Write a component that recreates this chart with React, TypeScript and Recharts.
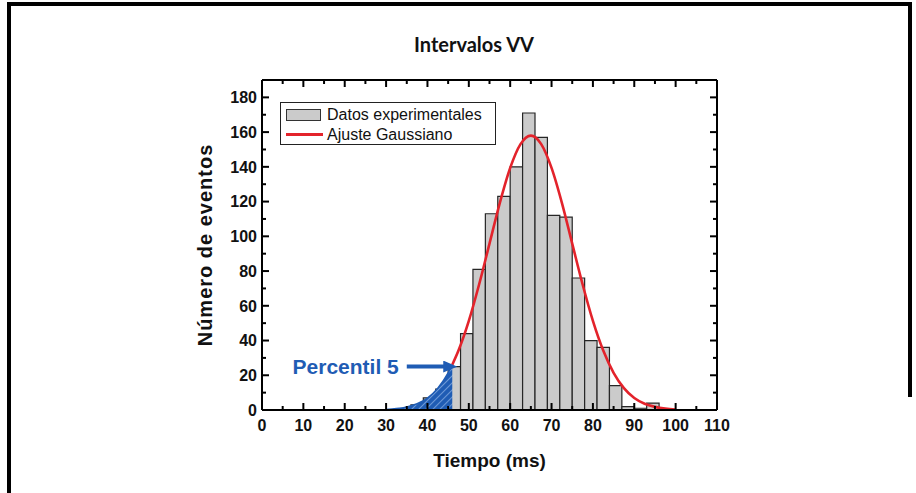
import React from 'react';
import {
  ComposedChart, Line, Area, XAxis, YAxis, ReferenceArea, ReferenceLine, Legend,
} from 'recharts';

// Histogram bins (start of each 3 ms bin) and counts
const BIN_WIDTH = 3;
const binStarts = [36, 39, 42, 45, 48, 51, 54, 57, 60, 63, 66, 69, 72, 75, 78, 81, 84, 87, 90, 93];
const binCounts = [3, 7, 12, 25, 44, 81, 113, 123, 140, 171, 157, 112, 111, 76, 40, 36, 14, 2, 1, 4];

// Gaussian fit curve
const fitX = [30, 32.5, 35, 37.5, 40, 42.5, 45, 46, 47.5, 50, 52.5, 55, 57.5, 60, 62.5, 65, 67.5, 70, 72.5, 75, 77.5, 80, 82.5, 85, 87.5, 90, 92.5, 95, 97.5, 100];
const fitY = [0.3, 0.8, 1.8, 3.6, 6.9, 12.6, 21.4, 26, 34.2, 51.3, 72.4, 95.8, 119.3, 139.4, 153.1, 158, 153.1, 139.4, 119.3, 95.8, 72.4, 51.3, 34.2, 21.4, 12.6, 6.9, 3.6, 1.8, 0.8, 0.3];
const PERCENTIL_5 = 46;

// Annotation arrow
const arrowFrom = { x: 35, y: 25 };
const arrowTo = { x: 44.3, y: 25 };

const xTicks = [0, 5, 10, 15, 20, 25, 30, 35, 40, 45, 50, 55, 60, 65, 70, 75, 80, 85, 90, 95, 100, 105, 110];
const yTicks = [0, 10, 20, 30, 40, 50, 60, 70, 80, 90, 100, 110, 120, 130, 140, 150, 160, 170, 180];

const fitData = fitX.map((x, i) => ({
  x,
  fit: x >= PERCENTIL_5 ? fitY[i] : null,
  tail: x <= PERCENTIL_5 ? fitY[i] : null,
}));

const FONT = '"Liberation Sans", Arial, sans-serif';
const BLUE = '#1f5cb4';
const RED = '#e3232b';

const BottomTick = (p: any) => {
  const { x, y, payload } = p;
  const major = payload.value % 10 === 0;
  return (
    <g>
      <line x1={x} x2={x} y1={y} y2={y - (major ? 7 : 4)} stroke="#000" strokeWidth={2} />
      {major && (
        <text x={x} y={y + 21} textAnchor="middle" fontFamily={FONT} fontWeight="bold" fontSize={16} fill="#111">
          {payload.value}
        </text>
      )}
    </g>
  );
};
const TopTick = (p: any) => {
  const { x, y, payload } = p;
  const major = payload.value % 10 === 0;
  return <line x1={x} x2={x} y1={y} y2={y + (major ? 7 : 4)} stroke="#000" strokeWidth={2} />;
};
const LeftTick = (p: any) => {
  const { x, y, payload } = p;
  const major = payload.value % 20 === 0;
  return (
    <g>
      <line x1={x} x2={x + (major ? 7 : 4)} y1={y} y2={y} stroke="#000" strokeWidth={2} />
      {major && (
        <text x={x - 5} y={y} dy="0.36em" textAnchor="end" fontFamily={FONT} fontWeight="bold" fontSize={16} fill="#111">
          {payload.value}
        </text>
      )}
    </g>
  );
};
const RightTick = (p: any) => {
  const { x, y, payload } = p;
  const major = payload.value % 20 === 0;
  return <line x1={x} x2={x - (major ? 7 : 4)} y1={y} y2={y} stroke="#000" strokeWidth={2} />;
};

const renderLegend = () => (
  <div
    style={{
      border: '1.5px solid #222', background: '#fff', width: 216, height: 43,
      fontFamily: FONT, fontSize: 16, color: '#111', boxSizing: 'border-box', padding: '2px 0 0 5px',
    }}
  >
    <div style={{ display: 'flex', alignItems: 'center', height: 20 }}>
      <span style={{ display: 'inline-block', width: 35, height: 12, background: '#cbcbcb', border: '1.5px solid #333', marginRight: 6, boxSizing: 'border-box' }} />
      Datos experimentales
    </div>
    <div style={{ display: 'flex', alignItems: 'center', height: 19 }}>
      <span style={{ display: 'inline-block', width: 37, height: 3, background: RED, marginRight: 4 }} />
      Ajuste Gaussiano
    </div>
  </div>
);

const ArrowShape = (p: any) => (
  <line x1={p.x1} y1={p.y1} x2={p.x2} y2={p.y2} stroke={BLUE} strokeWidth={4} markerEnd="url(#arrowHead)" />
);

export default function App() {
  return (
    <div style={{ position: 'absolute', left: 0, top: 0, width: 916, height: 493, background: '#fff', overflow: 'hidden' }}>
      <div style={{ position: 'absolute', left: 7, top: 2, width: 905, height: 4, background: '#000' }} />
      <div style={{ position: 'absolute', left: 7, top: 2, width: 4, height: 491, background: '#000' }} />
      <div style={{ position: 'absolute', left: 908, top: 2, width: 4, height: 395, background: '#000' }} />
      <div
        style={{
          position: 'absolute', left: 374, top: 32, width: 200, textAlign: 'center',
          fontFamily: 'Lato, "Open Sans", sans-serif', fontWeight: 'bold', fontSize: 20, color: '#111',
        }}
      >
        Intervalos VV
      </div>
      <ComposedChart
        width={916}
        height={493}
        data={fitData}
        margin={{ top: 79, right: 198, bottom: 82, left: 261 }}
        style={{ position: 'absolute', left: 0, top: 0 }}
      >
        <defs>
          <pattern id="hatch" patternUnits="userSpaceOnUse" width="5" height="5" patternTransform="rotate(45)">
            <rect width="5" height="5" fill={BLUE} />
            <line x1="0" y1="0" x2="0" y2="5" stroke="#8fb3e6" strokeWidth="1.4" />
          </pattern>
          <marker id="arrowHead" markerUnits="userSpaceOnUse" markerWidth="14" markerHeight="12" refX="2" refY="6" orient="auto">
            <path d="M0,0 L14,6 L0,12 z" fill={BLUE} />
          </marker>
        </defs>
        <XAxis
          dataKey="x" type="number" domain={[0, 110]} ticks={xTicks} interval={0}
          height={1} tickSize={0} tickMargin={0} tickLine={false} tick={<BottomTick />}
          axisLine={{ stroke: '#000', strokeWidth: 2 }} allowDataOverflow
          label={{ value: 'Tiempo (ms)', position: 'bottom', offset: 43, fontFamily: FONT, fontWeight: 'bold', fontSize: 19, fill: '#111' }}
        />
        <XAxis
          xAxisId="top" orientation="top" dataKey="x" type="number" domain={[0, 110]} ticks={xTicks} interval={0}
          height={1} tickSize={0} tickMargin={0} tickLine={false} tick={<TopTick />}
          axisLine={{ stroke: '#000', strokeWidth: 2 }} allowDataOverflow
        />
        <YAxis
          type="number" domain={[0, 190]} ticks={yTicks} interval={0}
          width={1} tickSize={0} tickMargin={0} tickLine={false} tick={<LeftTick />}
          axisLine={{ stroke: '#000', strokeWidth: 2 }} allowDataOverflow
          label={{ value: 'Número de eventos', angle: -90, position: 'left', offset: 56, fontFamily: FONT, fontWeight: 'bold', fontSize: 20, fill: '#111', style: { textAnchor: 'middle', letterSpacing: '1px' } }}
        />
        <YAxis
          yAxisId="right" orientation="right" type="number" domain={[0, 190]} ticks={yTicks} interval={0}
          width={1} tickSize={0} tickMargin={0} tickLine={false} tick={<RightTick />}
          axisLine={{ stroke: '#000', strokeWidth: 2 }} allowDataOverflow
        />
        {binStarts.map((s, i) => (
          <ReferenceArea
            key={s}
            x1={s}
            x2={s + BIN_WIDTH}
            y1={0}
            y2={binCounts[i]}
            fill="#cbcbcb"
            fillOpacity={1}
            stroke="#262626"
            strokeWidth={1.2}
          />
        ))}
        <Area
          dataKey="tail" type="monotone" fill="url(#hatch)" fillOpacity={1}
          stroke={BLUE} strokeWidth={1.5} isAnimationActive={false} dot={false} activeDot={false}
        />
        <Line
          dataKey="fit" type="monotone" stroke={RED} strokeWidth={2.6}
          isAnimationActive={false} dot={false} activeDot={false}
        />
        <ReferenceLine
          segment={[arrowFrom, arrowTo]}
          shape={ArrowShape}
          label={{ value: 'Percentil 5', position: 'left', offset: 8, fontFamily: FONT, fontWeight: 'bold', fontSize: 21, fill: BLUE }}
        />
        <Legend
          content={renderLegend}
          layout="horizontal"
          verticalAlign="middle"
          align="center"
          width={216}
          wrapperStyle={{ left: 280, top: 102, width: 216 }}
        />
      </ComposedChart>
    </div>
  );
}
